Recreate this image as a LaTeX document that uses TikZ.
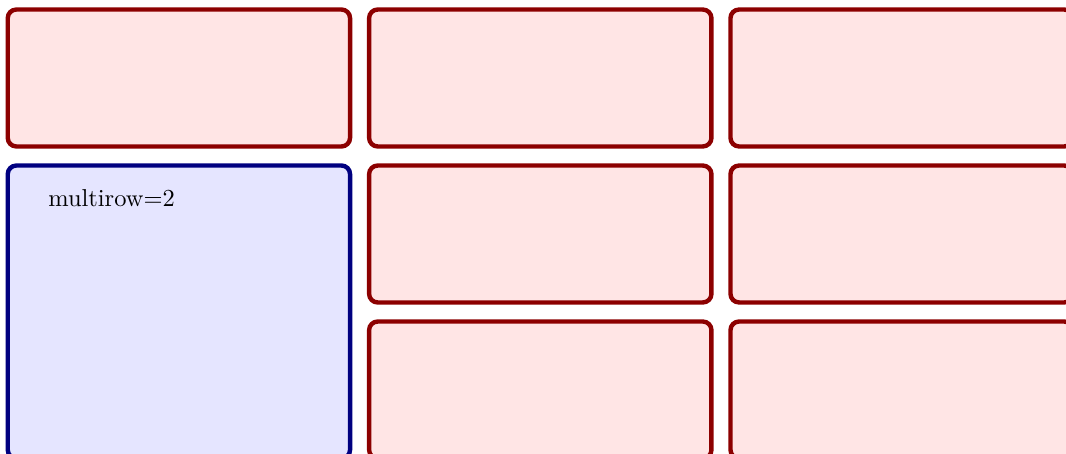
\documentclass[tikz,border=0pt]{standalone}
\usetikzlibrary{positioning}

\colorlet{cellline}{red!55!black}
\colorlet{cellfill}{red!10}
\colorlet{spanline}{blue!50!black}
\colorlet{spanfill}{blue!10}

\begin{document}
\begin{tikzpicture}[
    x=0.409pt, y=-0.409pt,
    node distance=7.8pt,
    cell/.style={rectangle, draw=cellline, fill=cellfill, line width=1.8pt, rounded corners=3.5pt,
        minimum width=140pt, minimum height=56pt, outer sep=0pt, inner sep=0pt},
    spancell/.style={cell, draw=spanline, fill=spanfill, minimum height=119.8pt}
]
    \clip (0,0) rectangle (1066,454);
    \node[cell] (r1c1) at (178.9,78) {};
    \node[cell, right=of r1c1] (r1c2) {};
    \node[cell, right=of r1c2] (r1c3) {};
    \node[spancell, below=of r1c1] (span) {};
    \node[cell, below=of r1c2] (r2c2) {};
    \node[cell, below=of r1c3] (r2c3) {};
    \node[cell, below=of r2c2] (r3c2) {};
    \node[cell, below=of r2c3] (r3c3) {};
    \node[anchor=base west, inner sep=0pt] (spanlbl)
        at ([xshift=16.4pt, yshift=-16.6pt]span.north west) {multirow=2};
\end{tikzpicture}
\end{document}
